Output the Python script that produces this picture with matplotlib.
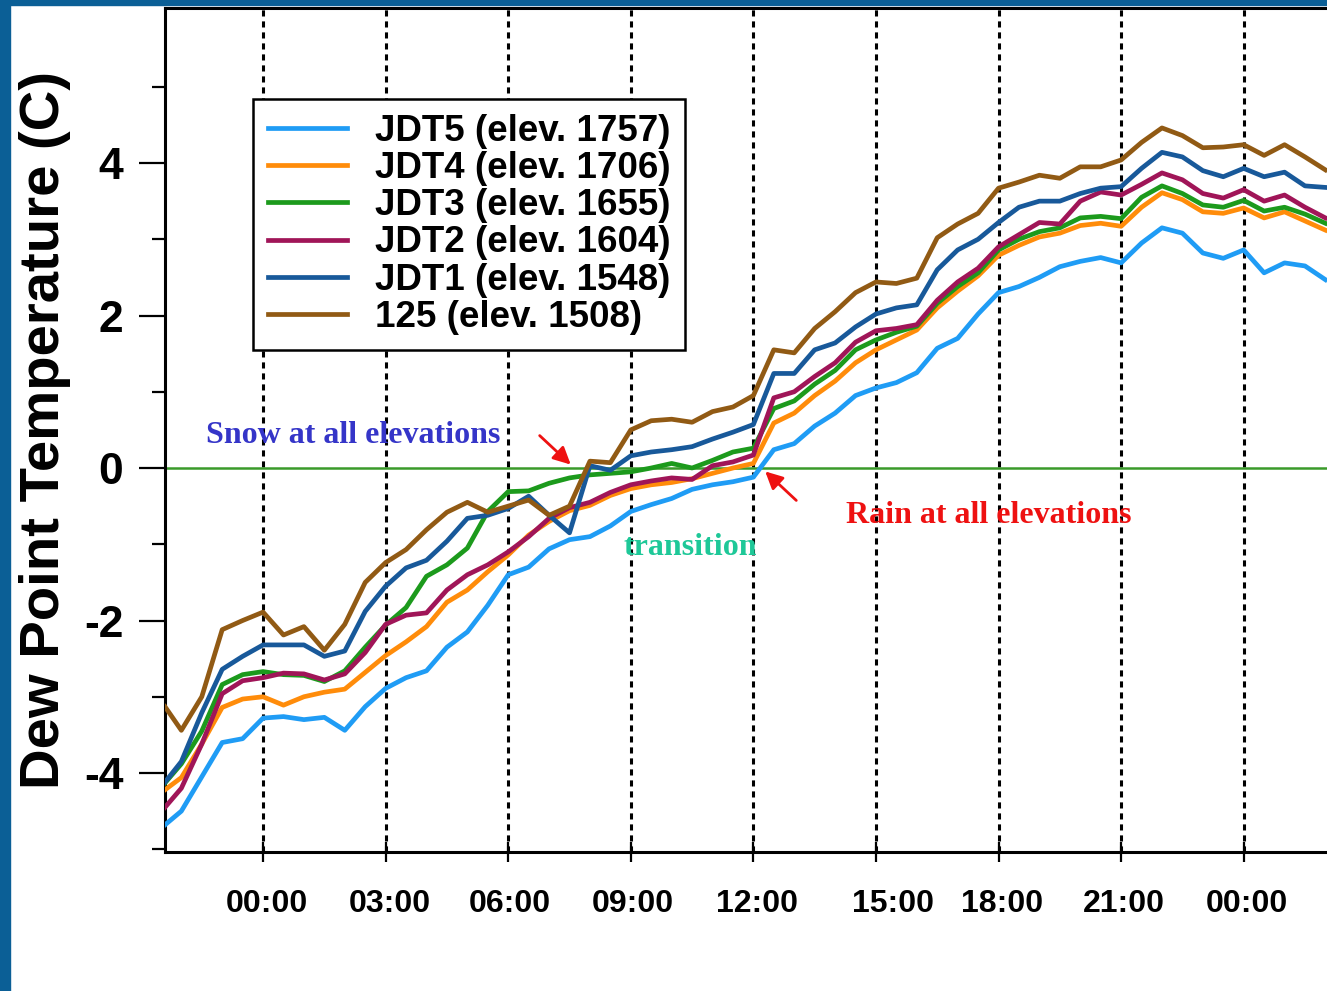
import numpy as np
import matplotlib
matplotlib.use("Agg")
import matplotlib.pyplot as plt
from matplotlib.patches import Rectangle
from matplotlib.transforms import ScaledTranslation

plt.rcParams['font.family'] = ['Liberation Sans', 'DejaVu Sans']
plt.rcParams['font.weight'] = 'bold'
plt.rcParams['axes.unicode_minus'] = False

# hours after the first midnight
hours = [-2.4, -2.0, -1.5, -1.0, -0.5,
         0.0, 0.5, 1.0, 1.5, 2.0, 2.5, 3.0, 3.5, 4.0, 4.5,
         5.0, 5.5, 6.0, 6.5, 7.0, 7.5, 8.0, 8.5, 9.0, 9.5,
         10.0, 10.5, 11.0, 11.5, 12.0, 12.5, 13.0, 13.5, 14.0, 14.5,
         15.0, 15.5, 16.0, 16.5, 17.0, 17.5, 18.0, 18.5, 19.0, 19.5,
         20.0, 20.5, 21.0, 21.5, 22.0, 22.5, 23.0, 23.5, 24.0, 24.5,
         25.0, 25.5, 26.0]

# dew point (C) per station
jdt5 = [-4.68, -4.50, -4.05, -3.60, -3.55,
        -3.28, -3.26, -3.30, -3.27, -3.44, -3.13, -2.89, -2.75, -2.66, -2.35,
        -2.15, -1.80, -1.40, -1.30, -1.06, -0.94, -0.90, -0.76, -0.57, -0.48,
        -0.40, -0.28, -0.22, -0.18, -0.12, 0.24, 0.32, 0.55, 0.72, 0.95,
        1.05, 1.12, 1.25, 1.57, 1.70, 2.02, 2.30, 2.38, 2.50, 2.64,
        2.71, 2.76, 2.69, 2.95, 3.15, 3.08, 2.82, 2.75, 2.86, 2.56,
        2.69, 2.65, 2.47]
jdt4 = [-4.22, -4.06, -3.62, -3.14, -3.03,
        -3.00, -3.11, -3.00, -2.94, -2.90, -2.68, -2.46, -2.28, -2.08, -1.76,
        -1.60, -1.36, -1.14, -0.88, -0.70, -0.56, -0.49, -0.36, -0.27, -0.22,
        -0.19, -0.14, -0.07, 0.00, 0.06, 0.59, 0.72, 0.95, 1.14, 1.38,
        1.55, 1.68, 1.81, 2.10, 2.32, 2.52, 2.79, 2.92, 3.03, 3.08,
        3.18, 3.21, 3.17, 3.42, 3.61, 3.52, 3.36, 3.34, 3.41, 3.28,
        3.36, 3.24, 3.12]
jdt3 = [-4.13, -3.88, -3.45, -2.84, -2.71,
        -2.67, -2.71, -2.72, -2.80, -2.66, -2.35, -2.06, -1.83, -1.42, -1.27,
        -1.05, -0.57, -0.31, -0.30, -0.20, -0.13, -0.09, -0.07, -0.05, 0.00,
        0.06, 0.00, 0.10, 0.21, 0.26, 0.78, 0.88, 1.10, 1.28, 1.55,
        1.68, 1.78, 1.86, 2.16, 2.38, 2.56, 2.86, 3.00, 3.10, 3.15,
        3.28, 3.30, 3.27, 3.55, 3.70, 3.60, 3.45, 3.42, 3.51, 3.37,
        3.42, 3.33, 3.21]
jdt2 = [-4.45, -4.20, -3.62, -2.96, -2.79,
        -2.75, -2.69, -2.70, -2.78, -2.70, -2.42, -2.05, -1.93, -1.90, -1.60,
        -1.40, -1.27, -1.10, -0.90, -0.66, -0.52, -0.45, -0.32, -0.22, -0.17,
        -0.13, -0.15, 0.03, 0.08, 0.17, 0.92, 1.00, 1.20, 1.38, 1.65,
        1.80, 1.83, 1.88, 2.20, 2.44, 2.62, 2.90, 3.06, 3.22, 3.20,
        3.50, 3.62, 3.58, 3.72, 3.87, 3.78, 3.60, 3.54, 3.65, 3.50,
        3.58, 3.42, 3.28]
jdt1 = [-4.12, -3.85, -3.21, -2.64, -2.47,
        -2.32, -2.32, -2.32, -2.47, -2.40, -1.88, -1.55, -1.31, -1.21, -0.96,
        -0.66, -0.62, -0.53, -0.37, -0.62, -0.85, 0.03, -0.03, 0.16, 0.21,
        0.24, 0.28, 0.38, 0.47, 0.57, 1.24, 1.24, 1.55, 1.64, 1.85,
        2.02, 2.10, 2.14, 2.60, 2.86, 3.00, 3.22, 3.42, 3.50, 3.50,
        3.60, 3.67, 3.69, 3.93, 4.14, 4.08, 3.90, 3.82, 3.93, 3.82,
        3.88, 3.70, 3.68]
st125 = [-3.13, -3.44, -3.00, -2.12, -2.00,
         -1.89, -2.19, -2.08, -2.39, -2.05, -1.50, -1.24, -1.07, -0.81, -0.58,
         -0.45, -0.58, -0.50, -0.42, -0.62, -0.50, 0.09, 0.07, 0.50, 0.62,
         0.64, 0.60, 0.74, 0.80, 0.95, 1.55, 1.51, 1.83, 2.05, 2.30,
         2.44, 2.42, 2.49, 3.02, 3.20, 3.34, 3.67, 3.75, 3.84, 3.80,
         3.95, 3.95, 4.04, 4.27, 4.46, 4.36, 4.20, 4.21, 4.24, 4.10,
         4.24, 4.08, 3.91]

names = ["JDT5 (elev. 1757)", "JDT4 (elev. 1706)", "JDT3 (elev. 1655)",
         "JDT2 (elev. 1604)", "JDT1 (elev. 1548)", "125 (elev. 1508)"]
colors = ["#1f9cf5", "#ff8c0a", "#1c9a1c", "#a01558", "#18599a", "#915a14"]

tick_hours = [0, 3, 6, 9, 12, 15, 18, 21, 24]
tick_labels = ["00:00", "03:00", "06:00", "09:00", "12:00",
               "15:00", "18:00", "21:00", "00:00"]

W, H = 1327, 991
fig = plt.figure(figsize=(W / 100, H / 100), dpi=100)
fig.patch.set_facecolor("white")

# blue slide frame on left and top
border = "#0b5f96"
fig.add_artist(Rectangle((0, 0), 10 / W, 1, transform=fig.transFigure,
                         color=border, zorder=0))
fig.add_artist(Rectangle((0, 1 - 5 / H), 1, 5 / H, transform=fig.transFigure,
                         color=border, zorder=0))

ax = fig.add_axes([165 / W, 1 - 852 / H, 0.88, (852 - 8) / H])
ax.set_xlim(-2.4, 26.18)
ax.set_ylim(-5.036, 6.033)

for t in tick_hours:
    ax.axvline(t, color="black", ls=(0, (2, 1.6)), lw=2.2, zorder=1)
ax.axhline(0, color="#3a9a2a", lw=1.8, zorder=2)

series = [jdt5, jdt4, jdt3, jdt2, jdt1, st125]
lines = []
for vals, name, c in zip(series, names, colors):
    ln, = ax.plot(hours, vals, color=c, lw=3.4, label=name, zorder=3)
    lines.append(ln)

for s in ["left", "bottom", "top"]:
    ax.spines[s].set_linewidth(2.2)
ax.spines["right"].set_visible(False)

ax.set_yticks([-4, -2, 0, 2, 4])
ax.set_yticks([-5, -3, -1, 1, 3, 5], minor=True)
ax.tick_params(axis="y", which="major", length=19, width=1.6, labelsize=32, pad=11)
ax.tick_params(axis="y", which="minor", length=9.5, width=1.6)
ax.set_xticks(tick_hours)
ax.set_xticklabels(tick_labels)
ax.tick_params(axis="x", which="major", direction="inout", length=14, width=1.6,
               labelsize=23, pad=20)

# small shifts of the hour labels
shifts = [4, 4, 2, 2, 4, 17, 4, 3, 3]
for lbl, dx in zip(ax.get_xticklabels(), shifts):
    lbl.set_transform(lbl.get_transform() + ScaledTranslation(dx / 100, 0, fig.dpi_scale_trans))

fig.text(45 / W, 1 - 430 / H, "Dew Point Temperature (C)", rotation=90,
         ha="center", va="center", fontsize=40.5, fontweight="bold")

leg = ax.legend(handles=lines, loc="upper left", bbox_to_anchor=(0.0754, 0.892),
                borderaxespad=0, fontsize=26.5, handlelength=2.15, handletextpad=0.75,
                labelspacing=0.06, borderpad=0.4, fancybox=False, edgecolor="black",
                framealpha=1)
leg.get_frame().set_linewidth(1.8)
leg.set_zorder(5)

serif = ["Liberation Serif", "DejaVu Serif"]
ax.text(2.2, 0.43, "Snow at all elevations", family=serif, weight="bold",
        color="#3535c8", fontsize=23, ha="center", va="center", zorder=6)
ax.text(10.45, -1.04, "transition", family=serif, weight="bold",
        color="#1ec898", fontsize=23, ha="center", va="center", zorder=6)
ax.text(17.76, -0.62, "Rain at all elevations", family=serif, weight="bold",
        color="#ee1111", fontsize=23, ha="center", va="center", zorder=6)

arrow = dict(arrowstyle="-|>", color="#ee1111", lw=2, mutation_scale=26)
ax.annotate("", xy=(7.58, 0.02), xytext=(6.72, 0.45), arrowprops=arrow, zorder=6)
ax.annotate("", xy=(12.24, -0.02), xytext=(13.1, -0.45), arrowprops=arrow, zorder=6)

fig.savefig("out.png", dpi=100)
